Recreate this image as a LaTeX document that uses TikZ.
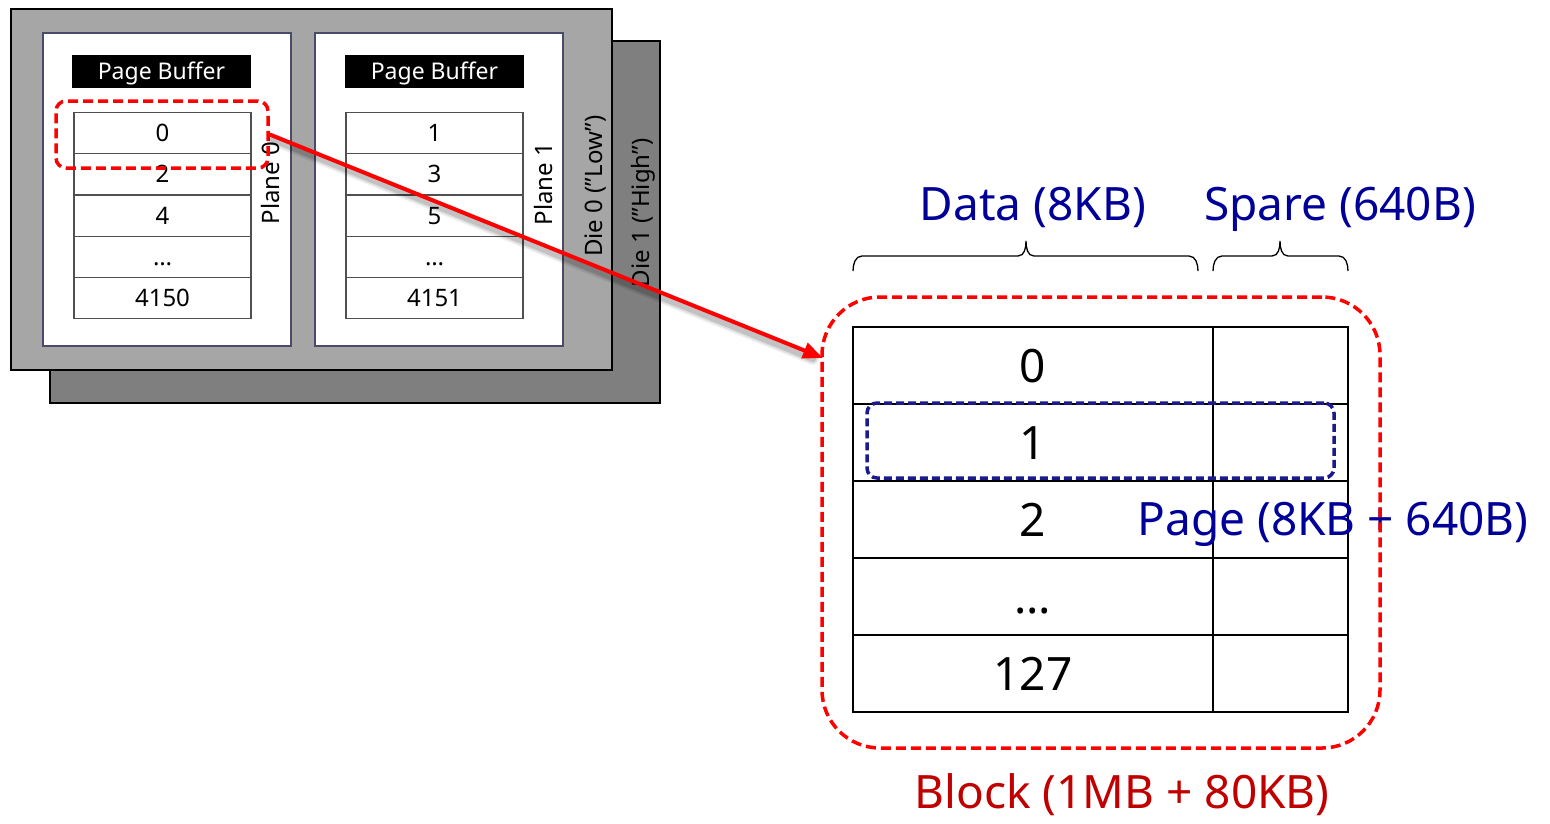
\documentclass[tikz,border=0pt]{standalone}
\usepackage{fontspec}
\setmainfont{Noto Sans}
\usetikzlibrary{arrows.meta}

\definecolor{dieFront}{HTML}{A6A6A6}
\definecolor{dieBack}{HTML}{7F7F7F}
\definecolor{planeEdge}{HTML}{4A4A6A}
\definecolor{cellEdge}{HTML}{505050}
\definecolor{labelBlue}{HTML}{000099}
\definecolor{pageBlue}{HTML}{1A1A8C}
\definecolor{blockRed}{HTML}{C00000}
\definecolor{markRed}{HTML}{FF0000}

% curly brace opening downwards: left x, tip x, right x
\newcommand{\topbrace}[3]{%
  \draw[bracepen] (#1,271) to[out=90,in=180] (#1+9,256) -- (#2-8,256)
    to[out=0,in=-90] (#2,241) to[out=-90,in=180] (#2+8,256) -- (#3-9,256)
    to[out=0,in=90] (#3,271);}

\begin{document}
\begin{tikzpicture}[x=1pt,y=-1pt,
  die/.style={draw=black,line width=2pt,anchor=north west,inner sep=0pt},
  plane/.style={draw=planeEdge,fill=white,line width=1.5pt,anchor=north west,
    minimum width=248pt,minimum height=313pt,inner sep=0pt},
  bufhdr/.style={fill=black,text=white,font=\fontsize{23}{26}\selectfont,
    minimum width=179pt,minimum height=33pt,inner sep=0pt,text height=16.5pt,text depth=0pt},
  cell/.style={draw=cellEdge,line width=1.2pt,minimum width=177pt,minimum height=41.3pt,
    inner sep=0pt,font=\fontsize{24}{28}\selectfont,text height=17pt,text depth=0pt},
  sidelabel/.style={rotate=90,font=\fontsize{24}{28}\selectfont,inner sep=0pt},
  datacell/.style={draw=black,line width=2.5pt,minimum width=360pt,minimum height=77pt,
    inner sep=0pt,font=\fontsize{46}{52}\selectfont,text height=33pt,text depth=0pt},
  sparecell/.style={draw=black,line width=2.5pt,minimum width=135pt,minimum height=77pt,inner sep=0pt},
  bracepen/.style={draw=black,line width=1.3pt},
  biglabel/.style={font=\fontsize{46}{52}\selectfont,inner sep=0pt,anchor=base},
  redmark/.style={draw=markRed,line width=3.5pt,dash pattern=on 10pt off 5pt},
  pagemark/.style={draw=pageBlue,line width=3.5pt,dash pattern=on 8pt off 4pt},
  link/.style={draw=markRed,line width=4pt,-{Triangle[length=20pt,width=16pt]}}
]
\useasboundingbox (0,0) rectangle (1550,823);

% ---------- the two dies ----------
\node[die,fill=dieBack,minimum width=610pt,minimum height=362pt] (die1) at (49,40) {};
\node[die,fill=dieFront,minimum width=601pt,minimum height=361pt] (die0) at (10,8) {};
\node[sidelabel] (die0lbl) at (596,186) {Die 0 (”Low”)};
\node[sidelabel] (die1lbl) at (643,213) {Die 1 (”High”)};

% ---------- planes with their page buffers ----------
\node[plane] (plane0) at (42,32) {};
\node[plane] (plane1) at (314,32) {};
\node[bufhdr] (pb0) at (161.5,71.5) {Page Buffer};
\node[bufhdr] (pb1) at (434.5,71.5) {Page Buffer};

\foreach \i/\a/\b in {0/0/1,1/2/3,2/4/5,3/…/…,4/4150/4151}{
  \node[cell] (l\i) at (162.5,133+41.3*\i) {\a};
  \node[cell] (r\i) at (434.5,133+41.3*\i) {\b};
}
\node[sidelabel] (pl0lbl) at (270,183) {Plane 0};
\node[sidelabel] (pl1lbl) at (543,184) {Plane 1};

% ---------- selected page buffer entry and link to the block ----------
\node[redmark,rounded corners=10pt,minimum width=212pt,minimum height=67pt,inner sep=0pt]
  (sel) at (162,134.5) {};
\coordinate (hit) at (823,358);
\foreach \w/\o in {12/0.06,9/0.08,6/0.12}{
  \draw[line width=\w pt,draw=black,opacity=\o,line cap=round]
    ([shift={(3,5)}]sel.east) -- ([shift={(-10,1)}]hit);
}
\draw[link] (sel.east) -- (hit);

% ---------- one block: pages of data + spare ----------
\foreach \i/\t in {0/0,1/1,2/2,3/…,4/127}{
  \node[datacell] (d\i) at (1033,365.5+77*\i) {\t};
  \node[sparecell] (s\i) at (1280.5,365.5+77*\i) {};
}

\topbrace{853}{1026}{1198}
\topbrace{1213}{1280}{1348}
\node[biglabel,text=labelBlue] (datalbl) at (1033,220) {Data (8KB)};
\node[biglabel,text=labelBlue] (sparelbl) at (1340,220) {Spare (640B)};

\node[pagemark,rounded corners=10pt,minimum width=467pt,minimum height=75pt,inner sep=0pt]
  (page) at (1100.5,440.5) {};
\node[biglabel,text=labelBlue] (pagelbl) at (1333,535) {Page (8KB + 640B)};

\node[redmark,rounded corners=58pt,minimum width=558pt,minimum height=451pt,inner sep=0pt]
  (blk) at (1101,522.5) {};
\node[biglabel,text=blockRed] (blklbl) at (1122,808) {Block (1MB + 80KB)};
\end{tikzpicture}
\end{document}
